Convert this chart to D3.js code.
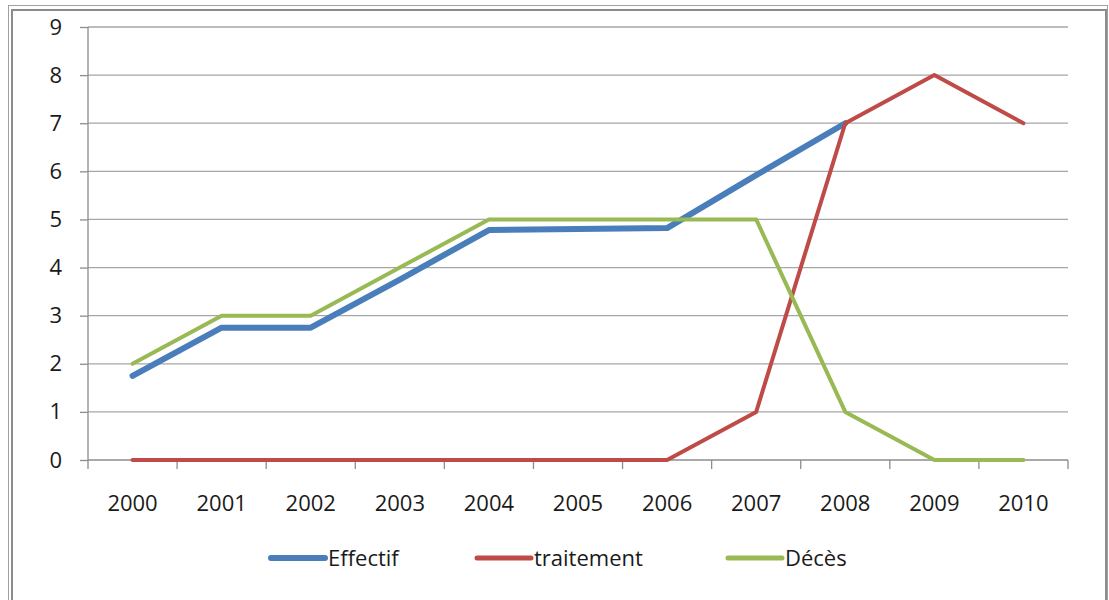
<!DOCTYPE html>
<html>
<head>
<meta charset="utf-8">
<script src="https://cdn.jsdelivr.net/npm/d3@7"></script>
<style>
  html, body { margin: 0; padding: 0; background: #fff; }
  svg { display: block; }
  text { font-family: "Open Sans", "Liberation Sans", sans-serif; fill: #1a1a1a; }
</style>
</head>
<body>
<script>
// Years on the category axis
const years = ["2000","2001","2002","2003","2004","2005","2006","2007","2008","2009","2010"];
// Series values per year (null = no value)
const effectif   = [1.75, 2.75, 2.75, 3.75, 4.78, 4.8, 4.82, 5.92, 7, null, null];
const traitement = [0, 0, 0, 0, 0, 0, 0, 1, 7, 8, 7];
const deces      = [2, 3, 3, 4, 5, 5, 5, 5, 1, 0, 0];
// Value axis ticks
const yTicks = [0, 1, 2, 3, 4, 5, 6, 7, 8, 9];

const series = [
  { name: "Effectif",   values: effectif,   color: "#4A7EBB", width: 6 },
  { name: "traitement", values: traitement, color: "#BE4B48", width: 4 },
  { name: "Décès",      values: deces,      color: "#98B954", width: 4 }
];

const W = 1109, H = 600;
const FS = 22;
const svg = d3.select("body").append("svg").attr("width", W).attr("height", H);

// Outer frame (double border)
svg.append("rect").attr("x", 8.5).attr("y", 5.5).attr("width", 1099).attr("height", 620)
  .attr("fill", "none").attr("stroke", "#a0a0a0").attr("stroke-width", 1);
svg.append("rect").attr("x", 12).attr("y", 10).attr("width", 1094).attr("height", 620)
  .attr("fill", "none").attr("stroke", "#8c8c8c").attr("stroke-width", 2);

const x = d3.scaleBand().domain(years).range([88, 1068]).padding(0);
const y = d3.scaleLinear().domain([0, 9]).range([460, 27]);
const cx = d => x(d) + x.bandwidth() / 2;

// Horizontal gridlines
svg.append("g").selectAll("line").data(yTicks.filter(t => t > 0)).join("line")
  .attr("x1", 88).attr("x2", 1068)
  .attr("y1", d => y(d)).attr("y2", d => y(d))
  .attr("stroke", "#a6a6a6").attr("stroke-width", 1.3);

// Value axis
const yAxis = svg.append("g").attr("transform", "translate(88,0)")
  .call(d3.axisLeft(y).tickValues(yTicks).tickSize(8).tickPadding(18).tickFormat(d3.format("d")));
yAxis.select(".domain").attr("stroke", "#8c8c8c").attr("stroke-width", 1.3).attr("d", "M0,27V460");
yAxis.selectAll(".tick line").attr("stroke", "#8c8c8c").attr("stroke-width", 1.3);
yAxis.selectAll(".tick text").attr("font-size", FS).attr("fill", "#1a1a1a")
  .attr("font-family", "'Open Sans', sans-serif");

// Category axis: ticks on category boundaries
const xAxisG = svg.append("g").attr("transform", "translate(0,460)");
xAxisG.append("line").attr("x1", 88).attr("x2", 1068).attr("y1", 0).attr("y2", 0)
  .attr("stroke", "#8c8c8c").attr("stroke-width", 1.3);
const bounds = years.map(d => x(d) + x.bandwidth()).concat([x(years[0])]);
xAxisG.selectAll("line.tk").data(bounds).join("line").attr("class", "tk")
  .attr("x1", d => d).attr("x2", d => d).attr("y1", 0).attr("y2", 9)
  .attr("stroke", "#8c8c8c").attr("stroke-width", 1.3);
xAxisG.selectAll("text").data(years).join("text")
  .attr("x", d => cx(d)).attr("y", 51)
  .attr("text-anchor", "middle").attr("font-size", FS)
  .text(d => d);

// Series lines
const line = d3.line()
  .defined(d => d.v != null)
  .x(d => cx(d.year)).y(d => y(d.v));

series.forEach(s => {
  const pts = years.map((yr, i) => ({ year: yr, v: s.values[i] }));
  svg.append("path").datum(pts)
    .attr("d", line)
    .attr("fill", "none")
    .attr("stroke", s.color)
    .attr("stroke-width", s.width)
    .attr("stroke-linejoin", "round")
    .attr("stroke-linecap", "round");
});

// Legend
const legendItems = [
  { s: series[0], x0: 271 },
  { s: series[1], x0: 477 },
  { s: series[2], x0: 728 }
];
const lg = svg.append("g");
legendItems.forEach(it => {
  lg.append("line").attr("x1", it.x0).attr("x2", it.x0 + 54)
    .attr("y1", 558).attr("y2", 558)
    .attr("stroke", it.s.color).attr("stroke-width", it.s.width === 6 ? 6 : 5)
    .attr("stroke-linecap", "round");
  lg.append("text").attr("x", it.x0 + 57).attr("y", 566)
    .attr("font-size", FS).text(it.s.name);
});
</script>
</body>
</html>
